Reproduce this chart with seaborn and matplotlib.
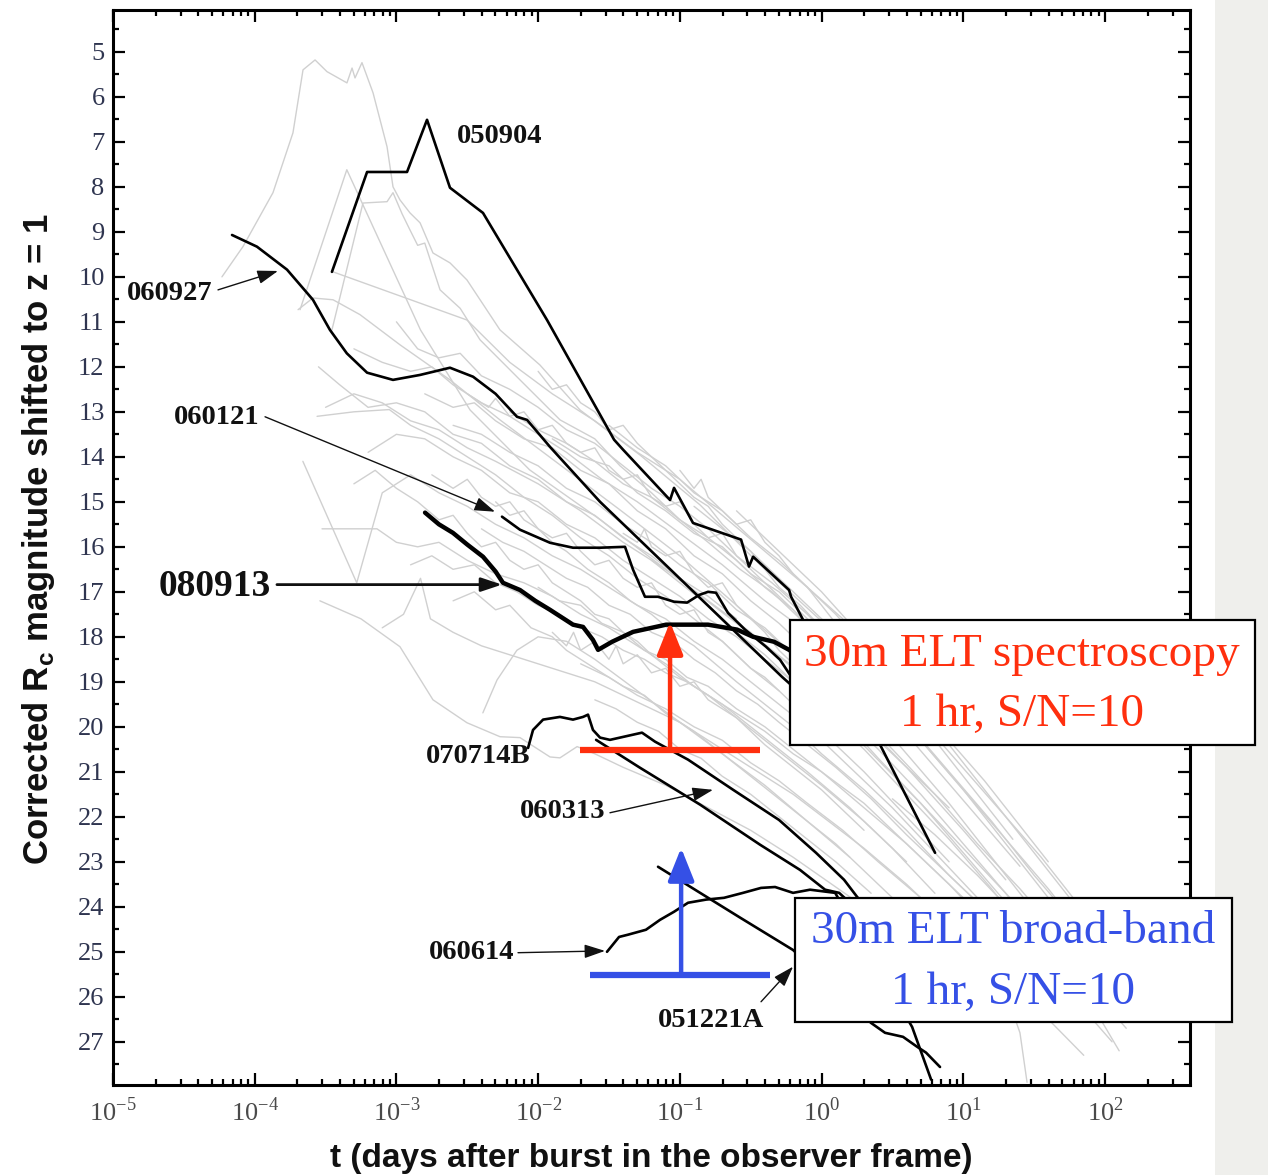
import numpy as np
import pandas as pd
import matplotlib
matplotlib.use("Agg")
import matplotlib.pyplot as plt
import seaborn as sns
from matplotlib.patches import Rectangle
from matplotlib.ticker import FixedLocator, MultipleLocator, FuncFormatter, NullFormatter

# ---------------------------------------------------------------------------
# Afterglow light curves: (log10 t [days], corrected Rc magnitude at z = 1)
# ---------------------------------------------------------------------------
lc_050904 = [(-3.455, 9.89), (-3.207, 7.67), (-2.925, 7.67), (-2.784, 6.51), (-2.622, 8.02),
             (-2.389, 8.58), (-1.937, 10.96), (-1.464, 13.62), (-1.401, 13.84), (-1.069, 14.96),
             (-1.041, 14.69), (-0.907, 15.47), (-0.568, 15.84), (-0.512, 16.44), (-0.483, 16.22),
             (-0.229, 16.96), (-0.215, 17.11), (-0.131, 17.62), (0.413, 20.40), (0.801, 22.80)]
lc_060927 = [(-4.160, 9.07), (-3.984, 9.33), (-3.772, 9.84), (-3.589, 10.51), (-3.469, 11.18),
             (-3.350, 11.70), (-3.207, 12.13), (-3.024, 12.29), (-2.833, 12.18), (-2.622, 12.02),
             (-2.459, 12.22), (-2.300, 12.60), (-2.149, 13.11), (-2.078, 13.18), (-1.916, 13.78),
             (-1.563, 15.00), (-0.279, 18.89), (0.060, 19.84)]
lc_060121 = [(-2.255, 15.33), (-2.128, 15.62), (-1.916, 15.91), (-1.754, 16.02), (-1.563, 16.02),
             (-1.387, 16.00), (-1.330, 16.51), (-1.246, 17.11), (-1.154, 17.11), (-1.041, 17.22),
             (-0.949, 17.24), (-0.864, 17.07), (-0.801, 17.00), (-0.745, 17.02), (-0.660, 17.47),
             (-0.540, 17.84), (-0.392, 18.22), (-0.293, 18.51), (-0.152, 19.18)]
lc_080913 = [(-2.798, 15.24), (-2.700, 15.50), (-2.601, 15.69), (-2.500, 15.95), (-2.389, 16.22),
             (-2.300, 16.55), (-2.248, 16.80), (-2.128, 16.96), (-2.020, 17.20), (-1.916, 17.40),
             (-1.754, 17.73), (-1.683, 17.78), (-1.613, 18.07), (-1.577, 18.29), (-1.478, 18.11),
             (-1.330, 17.89), (-1.097, 17.73), (-0.801, 17.73), (-0.596, 17.84), (-0.483, 18.00),
             (-0.335, 18.11), (-0.229, 18.29), (-0.081, 18.62)]
lc_070714B = [(-2.071, 20.47), (-2.036, 20.07), (-1.965, 19.84), (-1.846, 19.78), (-1.754, 19.84),
              (-1.683, 19.78), (-1.648, 19.73), (-1.613, 20.07), (-1.563, 20.24), (-1.493, 20.29),
              (-1.267, 20.13), (-1.175, 20.33), (-0.942, 20.73), (-0.624, 21.40), (-0.300, 22.07),
              (-0.039, 22.80), (0.159, 23.40), (0.251, 23.78), (0.400, 24.30)]
lc_060313 = [(-1.591, 20.29), (-1.281, 20.91), (-0.857, 21.73), (-0.434, 22.62), (-0.152, 23.18),
             (0.025, 23.62), (0.124, 23.69), (0.300, 24.20)]
lc_051221A = [(-1.154, 23.11), (-0.857, 23.69), (-0.575, 24.24), (-0.201, 24.96), (0.349, 26.58),
              (0.448, 26.80), (0.575, 26.89), (0.674, 27.11), (0.737, 27.24), (0.836, 27.56)]
lc_060614 = [(-1.514, 25.00), (-1.429, 24.67), (-1.366, 24.62), (-1.239, 24.51), (-1.140, 24.29),
             (-1.041, 24.11), (-0.942, 23.91), (-0.815, 23.84), (-0.688, 23.80), (-0.554, 23.69),
             (-0.427, 23.58), (-0.328, 23.56), (-0.201, 23.69), (-0.081, 23.62), (0.096, 23.69),
             (0.639, 26.67), (0.773, 27.84)]

# comparison sample (grey)
gray_01 = [(-4.231, 10.0), (-4.083, 9.33), (-3.871, 8.13), (-3.730, 6.80), (-3.659, 5.40), (-3.574, 5.18),
           (-3.490, 5.44), (-3.349, 5.69), (-3.313, 5.36), (-3.292, 5.58), (-3.243, 5.24), (-3.165, 5.91),
           (-3.066, 7.11), (-3.024, 8.00), (-2.975, 8.29), (-2.904, 8.58), (-2.833, 8.80), (-2.742, 9.47),
           (-2.622, 9.69), (-2.502, 10.07), (-2.269, 11.18), (-1.987, 11.96), (-1.704, 12.96),
           (-1.281, 13.96), (-0.857, 15.07), (-0.434, 16.40), (-0.011, 17.62)]
gray_02 = [(-3.68, 10.73), (-3.35, 7.62), (-2.83, 11.18), (-2.48, 12.96), (-2.06, 14.29), (-1.56, 15.4),
           (-1.10, 16.5), (-0.60, 17.7), (-0.10, 18.9), (0.40, 20.3), (0.90, 21.8)]
gray_03 = [(-3.455, 11.18), (-3.236, 8.36), (-3.066, 8.33), (-3.024, 8.13), (-2.96, 8.6), (-2.904, 8.96),
           (-2.85, 9.3), (-2.80, 9.25), (-2.692, 10.29), (-2.55, 10.7), (-2.41, 11.4), (-2.128, 12.29),
           (-1.845, 13.18), (-1.60, 13.6), (-1.422, 14.2), (-1.20, 14.8), (-0.999, 15.4), (-0.80, 15.9),
           (-0.575, 16.5), (-0.35, 17.0), (-0.152, 17.6)]
gray_04 = [(-3.694, 10.73), (-3.589, 10.47), (-3.447, 10.51), (-3.257, 10.84), (-2.975, 11.51),
           (-2.622, 12.29), (-2.269, 13.18), (-1.845, 14.18), (-1.422, 15.18), (-1.0, 16.2), (-0.6, 17.3),
           (-0.2, 18.4), (0.2, 19.6), (0.6, 20.9), (1.0, 22.3), (1.3, 23.4)]
gray_05 = [(-3.447, 9.89), (-2.502, 10.96), (-2.2, 11.9), (-1.9, 12.6), (-1.6, 13.2), (-1.3, 13.9),
           (-1.0, 14.5), (-0.7, 15.3), (-0.4, 16.1), (-0.1, 16.9), (0.15, 17.6)]
gray_06 = [(-3.3, 11.6), (-3.1, 11.9), (-2.9, 12.1), (-2.75, 12.0), (-2.6, 12.4), (-2.4, 12.8), (-2.2, 13.1),
           (-2.0, 13.5), (-1.8, 13.9), (-1.55, 14.5), (-1.3, 15.0), (-1.0, 15.7), (-0.7, 16.4), (-0.4, 17.2),
           (-0.1, 17.9), (0.2, 18.8), (0.5, 19.8), (0.8, 20.9), (1.1, 22.0), (1.4, 23.1)]
gray_07 = [(-3.0, 11.0), (-2.85, 11.6), (-2.7, 11.8), (-2.55, 11.7), (-2.4, 12.2), (-2.2, 12.5), (-2.0, 12.9),
           (-1.8, 13.4), (-1.6, 13.7), (-1.4, 14.2), (-1.2, 14.7), (-1.0, 15.1), (-0.8, 15.6), (-0.6, 16.2),
           (-0.35, 16.8), (-0.1, 17.5), (0.15, 18.3), (0.4, 19.2), (0.7, 20.3), (1.0, 21.4), (1.3, 22.6),
           (1.6, 23.8)]
gray_08 = [(-2.8, 12.6), (-2.6, 12.9), (-2.45, 12.8), (-2.3, 13.2), (-2.1, 13.6), (-1.9, 13.8), (-1.7, 14.3),
           (-1.5, 14.6), (-1.3, 15.2), (-1.1, 15.6), (-0.9, 16.2), (-0.7, 16.6), (-0.5, 17.2), (-0.3, 17.7),
           (0.0, 18.6), (0.3, 19.5), (0.6, 20.6), (0.9, 21.7), (1.2, 22.9), (1.5, 24.1), (1.8, 25.3)]
gray_09 = [(-3.5, 12.9), (-3.3, 12.6), (-3.1, 12.8), (-2.9, 13.2), (-2.7, 13.4), (-2.5, 13.8), (-2.3, 14.1),
           (-2.0, 14.6), (-1.7, 15.2), (-1.4, 15.9), (-1.1, 16.5), (-0.8, 17.2), (-0.5, 17.9), (-0.2, 18.7),
           (0.1, 19.6), (0.4, 20.5), (0.7, 21.5), (1.0, 22.6), (1.3, 23.7), (1.6, 24.9), (1.9, 26.0)]
gray_10 = [(-3.2, 13.9), (-3.0, 13.5), (-2.8, 13.6), (-2.6, 14.0), (-2.4, 14.3), (-2.2, 14.8), (-2.0, 15.0),
           (-1.8, 15.5), (-1.6, 15.8), (-1.4, 16.3), (-1.2, 16.7), (-1.0, 17.1), (-0.8, 17.6), (-0.6, 18.0),
           (-0.4, 18.5), (-0.2, 19.0), (0.0, 19.6), (0.3, 20.5), (0.6, 21.5), (0.9, 22.5), (1.2, 23.6),
           (1.5, 24.8)]
gray_11 = [(-2.6, 13.3), (-2.4, 13.5), (-2.2, 13.9), (-2.0, 14.2), (-1.8, 14.7), (-1.6, 15.0), (-1.4, 15.5),
           (-1.2, 15.9), (-1.0, 16.4), (-0.8, 16.8), (-0.6, 17.4), (-0.4, 17.8), (-0.2, 18.4), (0.0, 18.9),
           (0.25, 19.7), (0.5, 20.5), (0.8, 21.5), (1.1, 22.6), (1.4, 23.6), (1.7, 24.7), (1.95, 25.6)]
gray_12 = [(-2.2, 13.0), (-2.0, 13.4), (-1.8, 13.7), (-1.6, 14.1), (-1.4, 14.6), (-1.2, 14.9), (-1.0, 15.4),
           (-0.8, 15.8), (-0.6, 16.3), (-0.4, 16.9), (-0.2, 17.4), (0.0, 18.0), (0.2, 18.6), (0.45, 19.4),
           (0.7, 20.3), (1.0, 21.4), (1.3, 22.5), (1.6, 23.6), (1.9, 24.8)]
gray_13 = [(-1.9, 13.6), (-1.7, 14.0), (-1.5, 14.2), (-1.3, 14.8), (-1.1, 15.2), (-0.9, 15.7), (-0.7, 16.0),
           (-0.5, 16.6), (-0.3, 17.0), (-0.1, 17.6), (0.1, 18.2), (0.3, 18.9), (0.6, 19.9), (0.9, 21.0),
           (1.2, 22.1), (1.5, 23.3), (1.8, 24.4), (2.05, 25.4)]
gray_14 = [(-1.5, 13.3), (-1.3, 13.8), (-1.1, 14.2), (-0.9, 14.8), (-0.7, 15.2), (-0.5, 15.8), (-0.3, 16.3),
           (-0.1, 16.9), (0.1, 17.5), (0.3, 18.2), (0.6, 19.3), (0.9, 20.4), (1.2, 21.6), (1.5, 22.8),
           (1.8, 24.0)]
gray_15 = [(-3.66, 14.1), (-3.28, 16.8), (-3.10, 14.8), (-2.9, 14.4), (-2.7, 14.8), (-2.5, 15.1), (-2.3, 15.5),
           (-2.1, 15.8), (-1.9, 16.2), (-1.7, 16.5), (-1.5, 16.9), (-1.3, 17.3), (-1.1, 17.6), (-0.9, 18.1),
           (-0.7, 18.5), (-0.5, 19.0), (-0.3, 19.5), (-0.1, 20.0), (0.2, 20.9), (0.5, 21.8), (0.8, 22.8),
           (1.1, 23.8)]
gray_16 = [(-3.525, 15.6), (-3.137, 15.6), (-3.0, 15.9), (-2.85, 16.0), (-2.7, 15.9), (-2.5, 16.3),
           (-2.3, 16.6), (-2.1, 16.8), (-1.9, 17.1), (-1.7, 17.5), (-1.5, 17.8), (-1.3, 18.2), (-1.1, 18.6),
           (-0.9, 19.1), (-0.7, 19.5), (-0.5, 20.0), (-0.3, 20.5), (-0.1, 21.0), (0.2, 21.8), (0.5, 22.7),
           (0.8, 23.7)]
gray_17 = [(-3.54, 17.2), (-3.25, 17.6), (-2.975, 18.22), (-2.742, 19.4), (-2.502, 19.91), (-2.269, 20.22),
           (-2.128, 20.24), (-1.916, 20.67), (-1.846, 20.69), (-1.725, 20.44), (-1.6, 20.6), (-1.4, 20.9),
           (-1.1, 21.3), (-0.8, 21.8), (-0.5, 22.3), (-0.2, 22.9), (0.3, 24.0)]
gray_18 = [(-2.39, 19.69), (-2.29, 18.96), (-2.15, 18.3), (-2.0, 18.0), (-1.8, 18.1), (-1.6, 18.5),
           (-1.3, 19.2), (-1.0, 19.9), (-0.7, 20.6), (-0.4, 21.3), (-0.1, 22.1), (0.2, 22.9)]
gray_19 = [(-3.1, 17.8), (-2.95, 17.5), (-2.83, 16.7), (-2.76, 17.6), (-2.6, 17.9), (-2.4, 18.2), (-2.2, 18.4),
           (-2.0, 18.6), (-1.8, 18.8), (-1.6, 19.0), (-1.4, 19.3), (-1.2, 19.6), (-1.0, 19.9), (-0.8, 20.3),
           (-0.6, 20.7), (-0.4, 21.1), (-0.2, 21.5), (0.05, 22.1), (0.3, 22.7), (0.6, 23.5), (0.9, 24.4),
           (1.2, 25.3), (1.5, 26.2)]
gray_20 = [(-2.9, 16.4), (-2.75, 16.2), (-2.6, 16.5), (-2.45, 16.4), (-2.3, 16.8), (-2.15, 17.0), (-2.0, 17.3),
           (-1.85, 17.5), (-1.7, 17.8), (-1.55, 18.0), (-1.4, 18.3), (-1.25, 18.5), (-1.1, 18.8), (-0.95, 19.0),
           (-0.8, 19.3), (-0.6, 19.7), (-0.4, 20.1), (-0.2, 20.6), (0.0, 21.0), (0.3, 21.8), (0.6, 22.6),
           (0.9, 23.5), (1.2, 24.4), (1.5, 25.4), (1.75, 26.3)]
gray_21 = [(-2.4, 15.6), (-2.25, 15.9), (-2.1, 16.1), (-1.95, 16.4), (-1.8, 16.7), (-1.65, 16.9), (-1.5, 17.3),
           (-1.35, 17.5), (-1.2, 17.9), (-1.05, 18.1), (-0.9, 18.5), (-0.75, 18.8), (-0.6, 19.2), (-0.45, 19.5),
           (-0.3, 19.9), (-0.1, 20.4), (0.1, 20.9), (0.35, 21.6), (0.6, 22.4), (0.9, 23.3), (1.2, 24.2),
           (1.5, 25.2), (1.8, 26.1), (2.05, 27.0)]
gray_22 = [(-2.0, 16.9), (-1.85, 17.2), (-1.7, 17.3), (-1.55, 17.7), (-1.4, 17.9), (-1.25, 18.3), (-1.1, 18.5),
           (-0.95, 18.9), (-0.8, 19.1), (-0.6, 19.6), (-0.4, 20.0), (-0.2, 20.5), (0.0, 21.0), (0.3, 21.7),
           (0.6, 22.6), (0.9, 23.5), (1.2, 24.5), (1.5, 25.5)]
gray_23 = [(-1.7, 18.6), (-1.5, 18.9), (-1.3, 19.3), (-1.1, 19.6), (-0.9, 20.0), (-0.7, 20.3), (-0.5, 20.8),
           (-0.3, 21.2), (-0.1, 21.7), (0.15, 22.3), (0.4, 23.0), (0.7, 23.8), (1.0, 24.7), (1.3, 25.6),
           (1.6, 26.5), (1.85, 27.3)]
gray_24 = [(-1.2, 16.3), (-1.0, 16.8), (-0.8, 17.3), (-0.6, 17.9), (-0.4, 18.4), (-0.2, 19.0), (0.0, 19.5),
           (0.2, 20.1), (0.45, 20.9), (0.7, 21.7), (1.0, 22.7), (1.3, 23.7), (1.6, 24.7), (1.9, 25.8),
           (2.15, 26.7)]
gray_25 = [(-0.9, 15.1), (-0.7, 15.6), (-0.5, 16.1), (-0.3, 16.7), (-0.1, 17.3), (0.1, 17.9), (0.3, 18.6),
           (0.55, 19.4), (0.8, 20.2), (1.05, 21.1), (1.3, 22.0), (1.55, 22.9), (1.8, 23.9)]
gray_26 = [(-0.6, 15.2), (-0.4, 15.8), (-0.2, 16.4), (0.0, 17.0), (0.2, 17.7), (0.4, 18.4), (0.65, 19.3),
           (0.9, 20.3), (1.15, 21.2), (1.4, 22.2), (1.6, 23.0)]
gray_27 = [(0.8, 24.0), (1.0, 24.6), (1.15, 25.2), (1.3, 25.9), (1.4, 26.8), (1.45, 27.9)]
gray_28 = [(0.5, 21.6), (0.8, 22.4), (1.1, 23.3), (1.4, 24.3), (1.7, 25.4), (1.95, 26.4), (2.1, 27.2)]
gray_29 = [(-3.56, 13.1), (-3.3, 13.0), (-3.05, 12.95), (-2.9, 13.3), (-2.7, 13.6), (-2.5, 14.0),
           (-2.3, 14.4), (-2.1, 14.9), (-1.9, 15.3), (-1.7, 15.8), (-1.5, 16.2), (-1.3, 16.7), (-1.1, 17.1),
           (-0.9, 17.6), (-0.7, 18.1), (-0.5, 18.7), (-0.3, 19.2)]
gray_30 = [(-3.55, 12.0), (-3.4, 12.4), (-3.2, 12.9), (-3.0, 12.8), (-2.8, 13.0), (-2.6, 13.5), (-2.4, 13.7),
           (-2.2, 14.2), (-2.0, 14.5), (-1.8, 15.0), (-1.6, 15.3), (-1.4, 15.8), (-1.2, 16.2), (-1.0, 16.7),
           (-0.8, 17.1), (-0.6, 17.6)]
gray_31 = [(-2.5, 12.6), (-2.35, 12.9), (-2.3, 12.7), (-2.2, 13.1), (-2.1, 13.0), (-2.0, 13.4), (-1.9, 13.3),
           (-1.8, 13.7), (-1.7, 13.9), (-1.6, 13.8), (-1.5, 14.3), (-1.4, 14.5), (-1.3, 14.4), (-1.2, 14.9),
           (-1.1, 15.1), (-1.0, 15.0), (-0.9, 15.5), (-0.8, 15.8), (-0.7, 15.7), (-0.6, 16.2), (-0.5, 16.5),
           (-0.4, 16.8), (-0.3, 17.1), (-0.2, 17.4), (-0.1, 17.8)]
gray_32 = [(-2.3, 15.0), (-2.2, 15.3), (-2.1, 15.2), (-2.0, 15.6), (-1.9, 15.8), (-1.8, 15.7), (-1.7, 16.1),
           (-1.6, 16.4), (-1.5, 16.3), (-1.4, 16.7), (-1.3, 16.9), (-1.2, 16.8), (-1.1, 17.3), (-1.0, 17.5),
           (-0.9, 17.4), (-0.8, 17.9), (-0.7, 18.1), (-0.6, 18.4), (-0.5, 18.7), (-0.4, 18.9), (-0.2, 19.5),
           (0.0, 20.1), (0.3, 21.0), (0.6, 22.0), (0.9, 23.0)]
gray_33 = [(-1.9, 17.9), (-1.8, 18.2), (-1.75, 17.9), (-1.7, 18.3), (-1.6, 18.1), (-1.5, 18.5), (-1.45, 18.2),
           (-1.4, 18.6), (-1.3, 18.4), (-1.2, 18.8), (-1.1, 18.7), (-1.0, 19.1), (-0.9, 19.0), (-0.8, 19.4),
           (-0.6, 19.8), (-0.4, 20.3), (-0.2, 20.8), (0.0, 21.3), (0.3, 22.1), (0.6, 23.0)]
gray_34 = [(-2.6, 17.2), (-2.45, 17.0), (-2.3, 17.4), (-2.2, 17.3), (-2.05, 17.8), (-1.9, 18.0), (-1.8, 18.3),
           (-1.7, 18.5), (-1.55, 18.8), (-1.4, 19.1), (-1.25, 19.3), (-1.1, 19.7), (-0.9, 20.1), (-0.7, 20.6),
           (-0.5, 21.1), (-0.3, 21.6), (-0.1, 22.1), (0.1, 22.6), (0.4, 23.5), (0.7, 24.4)]
gray_35 = [(-1.4, 15.7), (-1.3, 15.9), (-1.25, 15.6), (-1.2, 16.0), (-1.1, 16.2), (-1.0, 16.1), (-0.9, 16.6),
           (-0.8, 16.9), (-0.7, 16.8), (-0.6, 17.3), (-0.5, 17.6), (-0.4, 17.9), (-0.3, 18.3), (-0.2, 18.6),
           (-0.1, 19.0), (0.0, 19.3), (0.2, 20.0), (0.4, 20.7), (0.7, 21.7), (1.0, 22.8), (1.3, 23.9)]
gray_36 = [(-1.0, 14.3), (-0.9, 14.7), (-0.85, 14.5), (-0.8, 14.9), (-0.7, 15.2), (-0.6, 15.5), (-0.5, 15.4),
           (-0.4, 15.9), (-0.3, 16.2), (-0.2, 16.6), (-0.1, 16.9), (0.0, 17.3), (0.1, 17.7), (0.2, 18.1),
           (0.4, 18.8), (0.6, 19.5), (0.85, 20.5), (1.1, 21.5), (1.35, 22.5)]
gray_37 = [(-3.3, 14.6), (-3.15, 14.3), (-3.0, 14.7), (-2.85, 15.0), (-2.7, 15.4), (-2.6, 15.3), (-2.5, 15.7),
           (-2.4, 16.0), (-2.3, 15.9), (-2.2, 16.3), (-2.1, 16.5), (-2.0, 16.4), (-1.9, 16.8), (-1.8, 17.0),
           (-1.7, 17.2), (-1.6, 17.5), (-1.5, 17.6), (-1.4, 17.9), (-1.3, 18.1), (-1.2, 18.4), (-1.0, 18.9),
           (-0.8, 19.3), (-0.6, 19.8), (-0.4, 20.4), (-0.2, 20.9), (0.0, 21.4), (0.3, 22.3)]
gray_38 = [(-2.0, 12.1), (-1.9, 12.5), (-1.8, 12.4), (-1.7, 12.8), (-1.6, 13.0), (-1.5, 13.4), (-1.4, 13.3),
           (-1.3, 13.7), (-1.2, 14.0), (-1.1, 14.3), (-1.0, 14.6), (-0.9, 14.9), (-0.8, 15.1), (-0.7, 15.5),
           (-0.6, 15.8), (-0.5, 16.1), (-0.4, 16.5), (-0.3, 16.9), (-0.15, 17.3), (0.0, 17.8), (0.2, 18.5)]
gray_39 = [(-2.75, 14.4), (-2.6, 14.7), (-2.5, 14.5), (-2.4, 14.9), (-2.3, 15.1), (-2.2, 15.0), (-2.1, 15.4),
           (-2.0, 15.6), (-1.9, 15.9), (-1.8, 16.1), (-1.65, 16.5), (-1.5, 16.8), (-1.35, 17.2), (-1.2, 17.5),
           (-1.05, 17.9), (-0.9, 18.2), (-0.75, 18.6), (-0.6, 19.0), (-0.4, 19.5), (-0.2, 20.0), (0.0, 20.6),
           (0.3, 21.4), (0.6, 22.3), (0.9, 23.3), (1.2, 24.2)]
gray_40 = [(-1.6, 19.4), (-1.45, 19.6), (-1.3, 19.9), (-1.15, 20.1), (-1.0, 20.5), (-0.85, 20.7), (-0.7, 21.1),
           (-0.5, 21.5), (-0.3, 22.0), (-0.1, 22.5), (0.1, 23.0), (0.35, 23.7)]

gray_curves = [gray_01, gray_02, gray_03, gray_04, gray_05, gray_06, gray_07, gray_08, gray_09, gray_10,
               gray_11, gray_12, gray_13, gray_14, gray_15, gray_16, gray_17, gray_18, gray_19, gray_20,
               gray_21, gray_22, gray_23, gray_24, gray_25, gray_26, gray_27, gray_28, gray_29, gray_30,
               gray_31, gray_32, gray_33, gray_34, gray_35, gray_36, gray_37, gray_38, gray_39, gray_40]

# highlighted bursts
black_names = ["050904", "060927", "060121", "070714B", "060313", "051221A", "060614"]
black_curves = [lc_050904, lc_060927, lc_060121, lc_070714B, lc_060313, lc_051221A, lc_060614]

# burst labels: text, label position (log t, mag), arrow tail, arrow head (None = no arrow)
label_text = ["050904", "060927", "060121", "080913", "070714B", "060313", "060614", "051221A"]
label_pos = [(-2.269, 6.89), (-4.598, 10.36), (-4.266, 13.13), (-4.280, 16.89),
             (-2.424, 20.67), (-1.824, 21.89), (-2.466, 25.02), (-0.780, 26.53)]
arrow_tail = [None, (-4.259, 10.29), (-3.927, 13.11), (-3.843, 16.84),
              None, (-1.493, 21.91), (-2.142, 25.02), (-0.427, 26.11)]
arrow_head = [None, (-3.836, 9.87), (-2.304, 15.22), (-2.255, 16.84),
              None, (-0.766, 21.40), (-1.528, 24.98), (-0.201, 25.33)]

# 30 m ELT sensitivity (1 hr, S/N = 10)
spec_limit_mag = 20.51
spec_span_logt = (-1.704, -0.434)
spec_arrow_logt = -1.069
spec_arrow_tip = 17.67
bb_limit_mag = 25.51
bb_span_logt = (-1.634, -0.364)
bb_arrow_logt = -0.991
bb_arrow_tip = 22.69

decades = [-5, -4, -3, -2, -1, 0, 1, 2]

RED = "#ff2f0e"
BLUE = "#3550e6"

# ---------------------------------------------------------------------------
sns.set_style("ticks")
plt.rcParams["font.family"] = ["Liberation Serif", "DejaVu Serif"]
plt.rcParams["mathtext.fontset"] = "custom"
plt.rcParams["mathtext.rm"] = "Liberation Serif"
plt.rcParams["mathtext.bf"] = "Liberation Sans:bold"


def to_frame(curves, names):
    rows = []
    for name, curve in zip(names, curves):
        for lt, m in curve:
            rows.append((name, 10.0 ** lt, m))
    return pd.DataFrame(rows, columns=["grb", "t", "mag"])


df_gray = to_frame(gray_curves, [f"g{i}" for i in range(len(gray_curves))])
df_black = to_frame(black_curves, black_names)
df_080913 = to_frame([lc_080913], ["080913"])

fig = plt.figure(figsize=(12.68, 11.75), dpi=100)
fig.patches.append(Rectangle((1215 / 1268, 0), 1 - 1215 / 1268, 1, transform=fig.transFigure,
                             facecolor="#efefec", edgecolor="none", zorder=-10))
ax = fig.add_axes([0.0891, 0.0766, 0.8494, 0.9149])
ax.set_xscale("log")

sns.lineplot(data=df_gray, x="t", y="mag", units="grb", estimator=None, color="#d0d0d0",
             lw=1.0, ax=ax, legend=False, zorder=2)
sns.lineplot(data=df_black, x="t", y="mag", units="grb", estimator=None, color="black",
             lw=1.9, ax=ax, legend=False, zorder=4)
sns.lineplot(data=df_080913, x="t", y="mag", units="grb", estimator=None, color="black",
             lw=3.2, ax=ax, legend=False, zorder=5)

ax.set_xlim(1e-5, 10 ** 2.60)
ax.set_ylim(27.96, 4.07)

# labels and pointer arrows
for txt, pos, tail, head in zip(label_text, label_pos, arrow_tail, arrow_head):
    big = txt == "080913"
    ax.text(10 ** pos[0], pos[1], txt, ha="center", va="center", fontsize=27 if big else 20.5,
            fontweight="bold", family=["Liberation Serif"], color="#111111", zorder=6)
    if tail is not None:
        ax.annotate("", xy=(10 ** head[0], head[1]), xytext=(10 ** tail[0], tail[1]),
                    arrowprops=dict(arrowstyle="-|>,head_length=0.9,head_width=0.3",
                                    lw=2.0 if big else 1.0, color="#111111",
                                    mutation_scale=14, shrinkA=0, shrinkB=0), zorder=6)

# sensitivity limits
ax.plot([10 ** spec_span_logt[0], 10 ** spec_span_logt[1]], [spec_limit_mag] * 2,
        color=RED, lw=4.5, solid_capstyle="butt", zorder=7)
ax.annotate("", xy=(10 ** spec_arrow_logt, spec_arrow_tip), xytext=(10 ** spec_arrow_logt, spec_limit_mag),
            arrowprops=dict(arrowstyle="-|>,head_length=1.0,head_width=0.4", lw=3.2, color=RED,
                            mutation_scale=20, shrinkA=0, shrinkB=0), zorder=7)
ax.plot([10 ** bb_span_logt[0], 10 ** bb_span_logt[1]], [bb_limit_mag] * 2,
        color=BLUE, lw=4.5, solid_capstyle="butt", zorder=7)
ax.annotate("", xy=(10 ** bb_arrow_logt, bb_arrow_tip), xytext=(10 ** bb_arrow_logt, bb_limit_mag),
            arrowprops=dict(arrowstyle="-|>,head_length=1.0,head_width=0.4", lw=3.2, color=BLUE,
                            mutation_scale=20, shrinkA=0, shrinkB=0), zorder=7)

# caption boxes
for (x0, y0, w, h), lines, col, xc, ys in [
    ((0.6286, 0.3163, 0.4318, 0.1163), ["30m ELT spectroscopy", "1 hr, S/N=10"], RED, 0.8440, (0.4000, 0.3442)),
    ((0.6332, 0.0586, 0.4058, 0.1154), ["30m ELT broad-band", "1 hr, S/N=10"], BLUE, 0.8361, (0.1428, 0.0860)),
]:
    ax.add_patch(Rectangle((x0, y0), w, h, transform=ax.transAxes, facecolor="white",
                           edgecolor="black", lw=1.6, clip_on=False, zorder=8))
    for line, yy in zip(lines, ys):
        ax.text(xc, yy, line, transform=ax.transAxes, ha="center", va="center", fontsize=34,
                color=col, family=["Liberation Serif"], zorder=9, clip_on=False)

# axes styling
for sp in ax.spines.values():
    sp.set_linewidth(2.2)
    sp.set_color("black")
    sp.set_visible(True)

major_t = [10.0 ** d for d in decades]
minor_t = [k * 10.0 ** d for d in decades for k in range(2, 10) if k * 10.0 ** d < 10 ** 2.6]
ax.xaxis.set_major_locator(FixedLocator(major_t))
ax.xaxis.set_minor_locator(FixedLocator(minor_t))
ax.xaxis.set_major_formatter(FuncFormatter(lambda v, p: r"$10^{%d}$" % round(np.log10(v))))
ax.xaxis.set_minor_formatter(NullFormatter())
ax.yaxis.set_major_locator(MultipleLocator(1))
ax.yaxis.set_minor_locator(MultipleLocator(0.5))

ax.tick_params(which="both", direction="in", top=True, right=True, width=1.6, color="black")
ax.tick_params(which="major", length=8.5)
ax.tick_params(which="minor", length=4.5)
ax.tick_params(axis="x", which="major", pad=9, labelsize=19, labelcolor="#4a4a4a")
ax.tick_params(axis="y", which="major", pad=6, labelsize=19, labelcolor="#2f3550")

ax.set_xlabel("t (days after burst in the observer frame)", fontsize=24, fontweight="bold",
              family=["Liberation Sans"], color="#111111")
ax.set_ylabel(r"Corrected R$_{\mathbf{c}}$ magnitude shifted to z = 1", fontsize=25, fontweight="bold",
              family=["Liberation Sans"], color="#111111")
ax.xaxis.set_label_coords(0.4995, -0.054)
ax.yaxis.set_label_coords(-0.052, 0.508)

fig.savefig("out.png", dpi=100)
